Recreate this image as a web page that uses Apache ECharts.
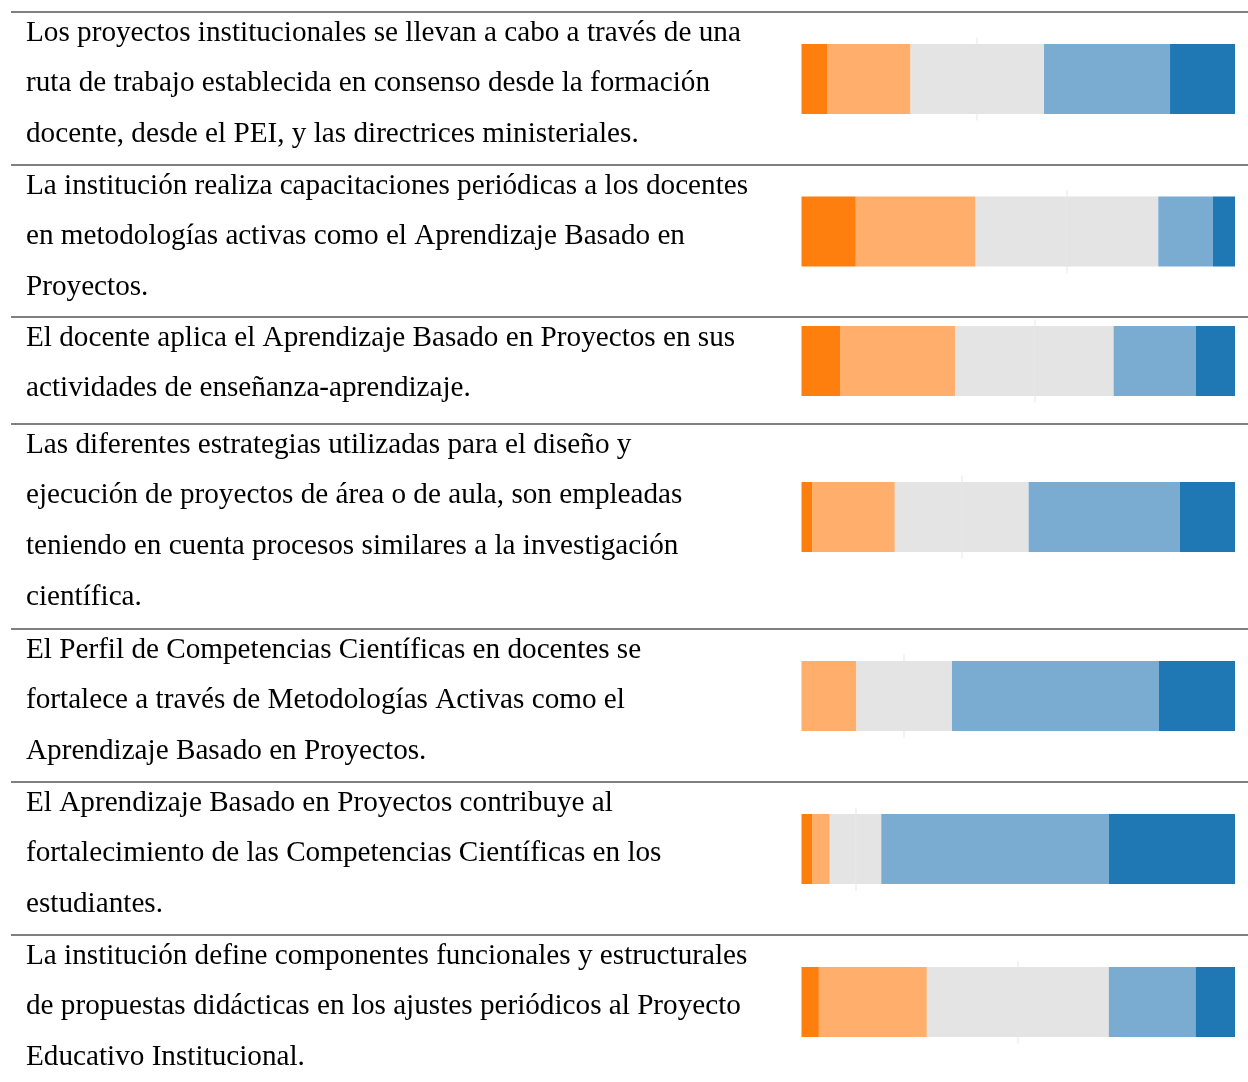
<!DOCTYPE html>
<html>
<head>
<meta charset="utf-8">
<script src="https://cdn.jsdelivr.net/npm/echarts@6/dist/echarts.min.js"></script>
<style>
  html, body { margin: 0; padding: 0; background: #fff; }
  #main { width: 1248px; height: 1082px; }
</style>
</head>
<body>
<div id="main"></div>
<script>
// statements (one entry per row, split into printed lines)
var statements = [
  ['Los proyectos institucionales se llevan a cabo a través de una',
   'ruta de trabajo establecida en consenso desde la formación',
   'docente, desde el PEI, y las directrices ministeriales.'],
  ['La institución realiza capacitaciones periódicas a los docentes',
   'en metodologías activas como el Aprendizaje Basado en',
   'Proyectos.'],
  ['El docente aplica el Aprendizaje Basado en Proyectos en sus',
   'actividades de enseñanza-aprendizaje.'],
  ['Las diferentes estrategias utilizadas para el diseño y',
   'ejecución de proyectos de área o de aula, son empleadas',
   'teniendo en cuenta procesos similares a la investigación',
   'científica.'],
  ['El Perfil de Competencias Científicas en docentes se',
   'fortalece a través de Metodologías Activas como el',
   'Aprendizaje Basado en Proyectos.'],
  ['El Aprendizaje Basado en Proyectos contribuye al',
   'fortalecimiento de las Competencias Científicas en los',
   'estudiantes.'],
  ['La institución define componentes funcionales y estructurales',
   'de propuestas didácticas en los ajustes periódicos al Proyecto',
   'Educativo Institucional.']
]

// percentages per answer level
var darkOrange = [6.0, 12.5, 8.9, 2.5, 0, 2.5, 4.0]
var lightOrange = [19.1, 27.6, 26.5, 19.0, 12.6, 4.0, 24.9]
var neutral = [30.9, 42.2, 36.6, 30.9, 22.1, 11.9, 42.0]
var lightBlue = [29.1, 12.6, 19.0, 34.9, 47.7, 52.5, 20.0]
var darkBlue = [15.0, 5.1, 9.0, 12.7, 17.6, 29.1, 9.1]

var colors = {
  darkOrange: '#ff7f0e',
  lightOrange: '#ffaf6b',
  neutral: '#e4e4e4',
  lightBlue: '#7aacd2',
  darkBlue: '#1f77b4'
}

// table rules (y of each horizontal line), last value is the page end of row 7
var ruleY = [12, 165, 317, 424, 629, 782, 935, 1088]

function buildOption() {
  var lineGap = 50.8
  var barH = 70
  var grids = []
  var xAxes = []
  var yAxes = []
  var series = []
  var graphics = []

  for (var i = 0; i < statements.length; i++) {
    var rowTop = ruleY[i]
    var rowBottom = ruleY[i + 1]
    var barCenter = (rowTop + rowBottom) / 2 - 9.5

    graphics.push({
      type: 'line',
      silent: true,
      shape: { x1: 11, y1: rowTop, x2: 1248, y2: rowTop },
      style: { stroke: '#808080', lineWidth: 2 }
    })
    for (var k = 0; k < statements[i].length; k++) {
      graphics.push({
        type: 'text',
        silent: true,
        x: 26,
        y: rowTop + 21 + k * lineGap,
        style: {
          text: statements[i][k],
          fontFamily: 'Liberation Serif',
          fontSize: 29.2,
          fill: '#000',
          verticalAlign: 'middle',
          align: 'left'
        }
      })
    }

    var neg = darkOrange[i] + lightOrange[i] + neutral[i] / 2
    var pos = neutral[i] / 2 + lightBlue[i] + darkBlue[i]

    grids.push({ left: 801.5, right: 13, top: barCenter - barH / 2 - 6, height: barH + 12 })
    xAxes.push({ gridIndex: i, type: 'value', min: -neg, max: pos, show: false })
    yAxes.push({
      gridIndex: i,
      type: 'category',
      z: 0,
      data: [''],
      axisLine: { show: true, onZero: true, lineStyle: { color: '#efefef', width: 1.5 } },
      axisTick: { show: false },
      axisLabel: { show: false },
      splitLine: { show: false }
    })

    // neutral is split in two halves around zero so the bar diverges from its middle
    var parts = [
      [-neutral[i] / 2, colors.neutral, true],
      [-lightOrange[i], colors.lightOrange, false],
      [-darkOrange[i], colors.darkOrange, false],
      [neutral[i] / 2, colors.neutral, true],
      [lightBlue[i], colors.lightBlue, false],
      [darkBlue[i], colors.darkBlue, false]
    ]
    for (var j = 0; j < parts.length; j++) {
      var style = { color: parts[j][1] }
      if (parts[j][2]) {
        style.borderColor = parts[j][1]
        style.borderWidth = 1.2
      }
      series.push({
        type: 'bar',
        xAxisIndex: i,
        yAxisIndex: i,
        stack: 'row' + i,
        barWidth: barH,
        silent: true,
        z: 2,
        data: [parts[j][0]],
        itemStyle: style
      })
    }
  }

  return {
    animation: false,
    backgroundColor: '#fff',
    grid: grids,
    xAxis: xAxes,
    yAxis: yAxes,
    series: series,
    graphic: { elements: graphics }
  }
}

var chart = echarts.init(document.getElementById('main'))
chart.setOption(buildOption())
</script>
</body>
</html>
